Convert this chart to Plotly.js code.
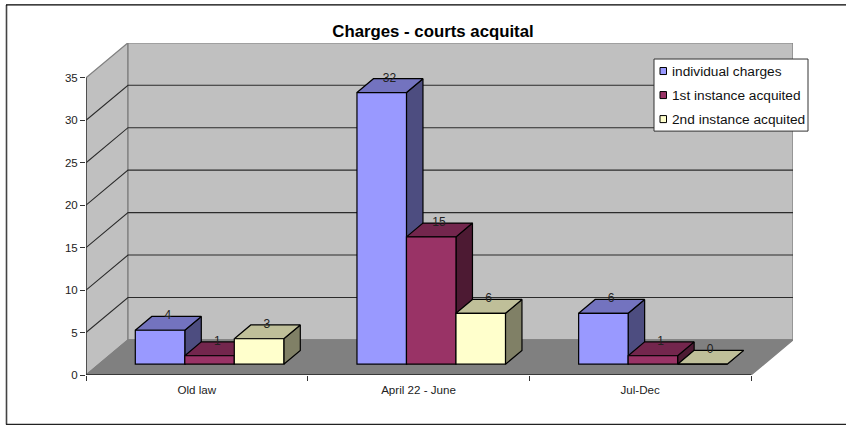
<!DOCTYPE html>
<html>
<head>
<meta charset="utf-8">
<script src="https://cdn.plot.ly/plotly-3.0.1.min.js"></script>
<style>html,body{margin:0;padding:0;background:#fff}</style>
</head>
<body>
<div id="chart" style="width:846px;height:425px"></div>
<script>
const categories = ['Old law', 'April 22 - June', 'Jul-Dec'];
const seriesNames = ['individual charges', '1st instance acquited', '2nd instance acquited'];
const individualCharges = [4, 32, 6];
const firstInstance = [1, 15, 1];
const secondInstance = [3, 6, 0];
const yTicks = [0, 5, 10, 15, 20, 25, 30, 35];
const frontColors = ['#9999FF', '#993366', '#FFFFCC'];
const topColors = ['#7373BF', '#73264D', '#BFBF99'];
const sideColors = ['#4D4D80', '#4D1A33', '#808066'];

const W = 846, H = 425;
const plotL = 86, plotR = 793, plotT = 43, plotB = 374.6;
const catPx = 221.67, unitPx = 8.48;
const xMin = -0.5, xMax = xMin + (plotR - plotL) / catPx;
const yMax = (plotB - plotT) / unitPx;
const depthX = 42 / catPx, depthY = 35 / unitPx;   // projected depth of the floor
const barBase = 1.27;                               // front plane of the bars above the axis
const barDepthX = 16.5 / catPx, barDepthY = 13.8 / unitPx;
const barWidth = 49.5 / catPx;
const offsets = [-0.2776, -0.0543, 0.1690];
const allSeries = [individualCharges, firstInstance, secondInstance];

const poly = pts => 'M' + pts.map(p => p[0] + ',' + p[1]).join('L') + 'Z';
const pxX = v => (v - plotL) / (plotR - plotL);
const pxY = v => (plotB - v) / (plotB - plotT);

const shapes = [];
const addWall = (pts, fill) => shapes.push({type: 'path', xref: 'x', yref: 'y', layer: 'below',
  path: poly(pts), fillcolor: fill, line: {color: '#808080', width: 1.3}});
const xFront = xMin + 665 / catPx;
// side wall, back wall, floor
addWall([[xMin, 0], [xMin, 35], [xMin + depthX, 35 + depthY], [xMin + depthX, depthY]], '#C0C0C0');
addWall([[xMin + depthX, depthY], [xMin + depthX, 35 + depthY], [xFront + depthX, 35 + depthY], [xFront + depthX, depthY]], '#C0C0C0');
addWall([[xMin, 0], [xFront, 0], [xFront + depthX, depthY], [xMin + depthX, depthY]], '#808080');
// gridlines on the walls
yTicks.slice(1, -1).forEach(v => shapes.push({type: 'path', xref: 'x', yref: 'y', layer: 'below',
  path: `M${xMin},${v}L${xMin + depthX},${v + depthY}L${xFront + depthX},${v + depthY}`,
  line: {color: '#2b2b2b', width: 1.1}}));
// axis lines
shapes.push({type: 'line', xref: 'x', yref: 'y', x0: xMin, x1: xMin, y0: 0, y1: 35, line: {color: '#333', width: 1.4}});
shapes.push({type: 'line', xref: 'x', yref: 'y', x0: xMin, x1: xFront, y0: 0, y1: 0, line: {color: '#222', width: 1.4}});
// chart frame (open on the right)
const frameLine = (x0, y0, x1, y1, c, w) => shapes.push({type: 'line', xref: 'paper', yref: 'paper',
  x0: pxX(x0), x1: pxX(x1), y0: pxY(y0), y1: pxY(y1), line: {color: c, width: w}});
frameLine(6.5, 5, 6.5, 424, '#444', 1.6);
frameLine(6, 5, 846, 5, '#000', 1.2);
frameLine(6, 424, 846, 424, '#222', 1.4);
// legend box with swatches
shapes.push({type: 'rect', xref: 'paper', yref: 'paper', x0: pxX(654), x1: pxX(808), y0: pxY(59), y1: pxY(131),
  fillcolor: '#fff', line: {color: '#333', width: 1}, layer: 'above'});
const annotations = [];
seriesNames.forEach((name, i) => {
  const cy = 71 + i * 24;
  shapes.push({type: 'rect', xref: 'paper', yref: 'paper', x0: pxX(660), x1: pxX(666.5), y0: pxY(cy - 3.5), y1: pxY(cy + 3.5),
    fillcolor: frontColors[i], line: {color: '#000', width: 1}, layer: 'above'});
  annotations.push({xref: 'paper', yref: 'paper', x: pxX(671), y: pxY(cy), xanchor: 'left', yanchor: 'middle',
    text: name, showarrow: false, xshift: -1, font: {family: 'Liberation Sans, Arial, sans-serif', size: 13.7, color: '#111'}});
});

const traces = [];
allSeries.forEach((vals, s) => {
  vals.forEach((v, c) => {
    const x0 = c + offsets[s], x1 = x0 + barWidth;
    const top = barBase + v;
    // side face
    traces.push({type: 'scatter', mode: 'lines', fill: 'toself', fillcolor: sideColors[s], zorder: 2 * s + 1,
      x: [x1, x1 + barDepthX, x1 + barDepthX, x1, x1],
      y: [barBase, barBase + barDepthY, top + barDepthY, top, barBase],
      line: {color: '#000', width: 1.2}, showlegend: false, hoverinfo: 'skip'});
    // top face
    traces.push({type: 'scatter', mode: 'lines', fill: 'toself', fillcolor: topColors[s], zorder: 2 * s + 1,
      x: [x0, x1, x1 + barDepthX, x0 + barDepthX, x0],
      y: [top, top, top + barDepthY, top + barDepthY, top],
      line: {color: '#000', width: 1.2}, showlegend: false, hoverinfo: 'skip'});
  });
  // front faces
  traces.push({type: 'bar', name: seriesNames[s], x: [0, 1, 2], y: vals, base: barBase,
    width: barWidth, offset: offsets[s], zorder: 2 * s + 2,
    marker: {color: frontColors[s], line: {color: '#000', width: 1.2}}, showlegend: false});
});
// value labels
allSeries.forEach((vals, s) => {
  traces.push({type: 'scatter', mode: 'text', zorder: 20, showlegend: false, hoverinfo: 'skip',
    x: vals.map((v, c) => c + offsets[s] + barWidth / 2 + barDepthX / 2 - 0.002),
    y: vals.map(v => barBase + v + barDepthY),
    text: vals.map(String), textposition: 'middle center',
    textfont: {family: 'Liberation Sans, Arial, sans-serif', size: 12, color: '#222'}});
});

const layout = {
  width: W, height: H, paper_bgcolor: '#fff', plot_bgcolor: 'rgba(0,0,0,0)',
  margin: {l: plotL, r: W - plotR, t: plotT, b: H - plotB, pad: 0},
  barmode: 'overlay', showlegend: false, shapes, annotations,
  title: {text: 'Charges - courts acquital', x: 433 / W, xref: 'container', xanchor: 'center',
    y: 1 - 31 / H, yref: 'container', yanchor: 'middle',
    font: {family: 'Liberation Sans, Arial, sans-serif', size: 16.8, color: '#000', weight: 'bold'}},
  xaxis: {type: 'linear', range: [xMin, xMax], tickmode: 'array', tickvals: [0, 1, 2], ticktext: categories,
    ticks: '', showgrid: false, zeroline: false, showline: false, ticklabelstandoff: 6,
    minor: {tickmode: 'array', tickvals: [-0.5, 0.5, 1.5, 2.5], ticks: 'outside', ticklen: 5, tickwidth: 1, tickcolor: '#333', showgrid: false},
    tickfont: {family: 'Liberation Sans, Arial, sans-serif', size: 11.6, color: '#222'}},
  yaxis: {type: 'linear', range: [0, yMax], tickmode: 'array', tickvals: yTicks,
    ticks: 'outside', ticklen: 5, tickwidth: 1, tickcolor: '#333', showgrid: false, zeroline: false, showline: false,
    tickfont: {family: 'Liberation Sans, Arial, sans-serif', size: 11.5, color: '#222'}}
};
Plotly.newPlot('chart', traces, layout, {displayModeBar: false, staticPlot: true});
</script>
</body>
</html>
